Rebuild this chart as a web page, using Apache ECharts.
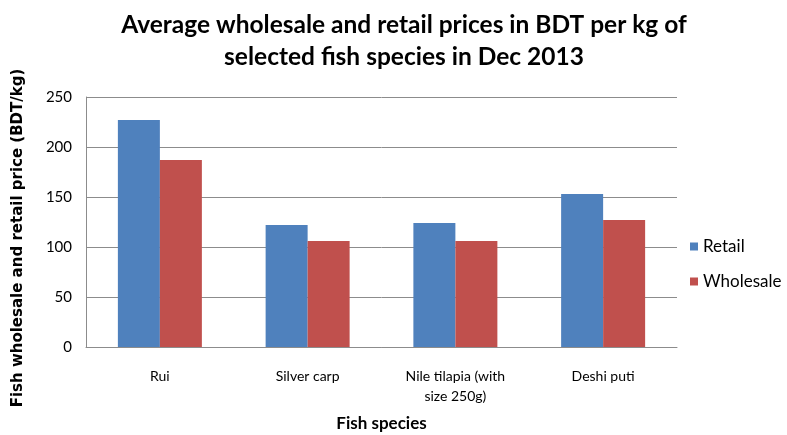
<!DOCTYPE html>
<html>
<head>
<meta charset="utf-8">
<script src="https://cdn.jsdelivr.net/npm/echarts@6/dist/echarts.min.js"></script>
<style>
  html, body { margin: 0; padding: 0; background: #fff; }
  #chart { width: 787px; height: 435px; }
</style>
</head>
<body>
<div id="chart"></div>
<script>
const species = ["Rui", "Silver carp", "Nile tilapia (with\nsize 250g)", "Deshi puti"];
const retail = [227, 122, 124, 153];
const wholesale = [187, 106, 106, 127];

const chart = echarts.init(document.getElementById("chart"));
const font = "Lato, 'Open Sans', sans-serif";

chart.setOption({
  animation: false,
  title: {
    text: "Average wholesale and retail prices in BDT per kg of\nselected fish species in Dec 2013",
    left: 399,
    textAlign: "center",
    top: 4,
    textStyle: { fontFamily: font, fontWeight: "bold", fontSize: 24.5, lineHeight: 32, color: "#000" }
  },
  legend: {
    orient: "vertical",
    left: 685,
    top: 233,
    itemGap: 18,
    icon: "rect",
    itemWidth: 8,
    itemHeight: 8,
    textStyle: { fontFamily: font, fontSize: 17, color: "#000" },
    data: ["Retail", "Wholesale"]
  },
  grid: { left: 86, right: 110, top: 97, bottom: 88, containLabel: false, outerBoundsMode: "none" },
  xAxis: {
    type: "category",
    data: species,
    name: "Fish species",
    nameLocation: "middle",
    nameGap: 68,
    nameTextStyle: { fontFamily: font, fontWeight: "bold", fontSize: 17, color: "#000" },
    axisLine: { lineStyle: { color: "#8c8c8c" } },
    axisTick: { show: false },
    axisLabel: { fontFamily: font, fontSize: 14, color: "#000", margin: 19, lineHeight: 20 }
  },
  yAxis: {
    type: "value",
    min: 0,
    max: 250,
    interval: 50,
    name: "Fish wholesale and retail price (BDT/kg)",
    nameLocation: "middle",
    nameGap: 60,
    nameTextStyle: { fontFamily: "'DejaVu Sans', sans-serif", fontWeight: "bold", fontSize: 15, color: "#000", padding: [0, 32, 0, 0] },
    axisLine: { show: true, lineStyle: { color: "#8c8c8c" } },
    axisTick: { show: false },
    axisLabel: { fontFamily: font, fontSize: 15, color: "#000", margin: 14 },
    splitLine: { lineStyle: { color: "#8c8c8c" } }
  },
  series: [
    {
      name: "Retail",
      type: "bar",
      data: retail,
      barWidth: 42,
      barGap: "0%",
      itemStyle: { color: "#4F81BD" }
    },
    {
      name: "Wholesale",
      type: "bar",
      data: wholesale,
      barWidth: 42,
      itemStyle: { color: "#C0504D" }
    }
  ]
});
</script>
</body>
</html>
